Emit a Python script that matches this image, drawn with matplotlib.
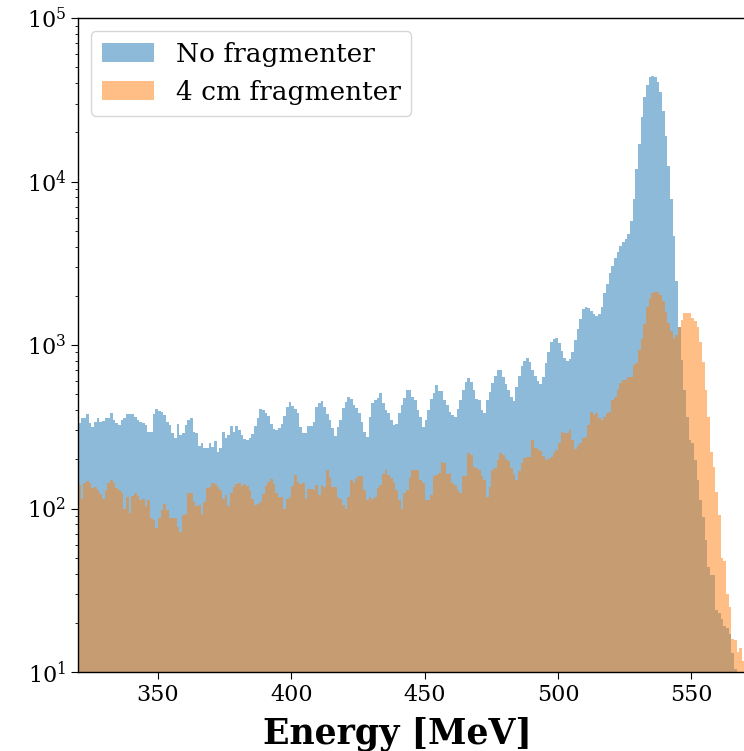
import numpy as np
import matplotlib
matplotlib.use("Agg")
import matplotlib.pyplot as plt

# 1 MeV bins from 320 to 570 MeV
bin_edges = np.arange(320, 571, 1)

# counts per bin, no fragmenter
no_frag = [
    332, 356, 356, 378, 332, 314, 340, 356, 340, 345,
    356, 356, 385, 350, 332, 325, 348, 356, 378, 378,
    378, 365, 348, 340, 332, 325, 295, 295, 378, 406,
    396, 390, 373, 340, 325, 288, 269, 330, 281, 288,
    325, 350, 356, 295, 288, 241, 251, 233, 233, 251,
    239, 260, 223, 233, 295, 269, 282, 320, 295, 320,
    300, 282, 265, 262, 269, 285, 320, 360, 404, 400,
    382, 370, 330, 305, 300, 309, 330, 370, 420, 450,
    425, 404, 382, 317, 288, 288, 320, 320, 340, 420,
    440, 457, 420, 380, 350, 310, 278, 317, 348, 410,
    450, 478, 465, 430, 410, 382, 340, 295, 275, 365,
    440, 461, 472, 511, 440, 400, 382, 350, 324, 330,
    382, 430, 472, 531, 531, 480, 461, 400, 365, 314,
    348, 400, 465, 506, 569, 526, 526, 461, 430, 391,
    373, 365, 404, 461, 531, 597, 625, 597, 531, 465,
    461, 400, 382, 461, 518, 583, 646, 703, 703, 640,
    575, 530, 480, 455, 555, 650, 745, 800, 830, 790,
    700, 650, 600, 580, 640, 780, 900, 1050, 1090, 1100,
    1030, 920, 830, 800, 820, 900, 1080, 1250, 1450, 1650,
    1700, 1680, 1620, 1540, 1510, 1540, 1700, 2070, 2350, 2740,
    3050, 3400, 3700, 4050, 4250, 4450, 4800, 5700, 7780, 11900,
    16900, 24700, 32700, 38900, 43700, 44500, 43700, 40800, 35400, 27100,
    18970, 12450, 7780, 4645, 2460, 1295, 809, 531, 365, 262,
    251, 198, 149, 113, 89, 64, 44, 39, 39, 24,
    23, 21, 19, 18.5, 17, 13, 10.5, 0, 0, 0,
]

# counts per bin, 4 cm fragmenter
frag_4cm = [
    139, 115, 144, 148, 143, 133, 136, 130, 123, 115,
    130, 144, 149, 143, 133, 130, 124, 100, 118, 94,
    119, 124, 119, 113, 115, 103, 113, 87, 85, 76,
    87, 98, 107, 98, 87, 87, 87, 77, 72, 91,
    93, 124, 124, 110, 103, 105, 93, 110, 133, 135,
    143, 141, 136, 130, 115, 121, 103, 124, 136, 141,
    143, 137, 141, 137, 130, 115, 105, 107, 110, 123,
    137, 146, 151, 141, 124, 117, 118, 100, 114, 117,
    137, 160, 146, 141, 144, 115, 131, 131, 130, 139,
    121, 139, 135, 172, 153, 136, 136, 118, 115, 105,
    100, 118, 149, 144, 153, 157, 157, 130, 113, 118,
    115, 118, 133, 139, 162, 172, 160, 153, 146, 130,
    113, 99, 124, 130, 153, 172, 173, 172, 149, 143,
    113, 113, 121, 157, 160, 164, 193, 189, 163, 164,
    143, 139, 130, 125, 157, 157, 217, 212, 180, 176,
    172, 157, 149, 118, 136, 172, 176, 198, 217, 213,
    200, 195, 176, 162, 149, 170, 190, 203, 207, 207,
    262, 233, 230, 226, 209, 198, 200, 207, 218, 228,
    251, 295, 291, 291, 302, 262, 230, 240, 251, 269,
    275, 324, 391, 373, 382, 356, 348, 365, 382, 391,
    461, 483, 531, 583, 611, 611, 640, 640, 755, 773,
    932, 1094, 1350, 1720, 1930, 2070, 2120, 2120, 2030, 1870,
    1590, 1358, 1215, 1100, 1150, 1295, 1422, 1563, 1577, 1577,
    1456, 1400, 1295, 1048, 791, 531, 365, 223, 180, 127,
    91, 50, 48, 30, 25, 16, 15.7, 13.3, 14, 11.6,
]

labels = ["No fragmenter", "4 cm fragmenter"]

plt.rcParams["font.family"] = ["DejaVu Serif"]

fig = plt.figure(figsize=(7.44, 7.51), dpi=100)
ax = fig.add_axes([0.1048, 0.1052, 0.8961, 0.8708])

centers = bin_edges[:-1] + 0.5
ax.hist(centers, bins=bin_edges, weights=no_frag, histtype="stepfilled",
        alpha=0.5, color="tab:blue", label=labels[0])
ax.hist(centers, bins=bin_edges, weights=frag_4cm, histtype="stepfilled",
        alpha=0.5, color="tab:orange", label=labels[1])

ax.set_yscale("log")
ax.set_ylim(10, 1e5)
ax.set_xlim(320, 570)
ax.set_xticks([350, 400, 450, 500, 550])
ax.tick_params(axis="both", which="major", labelsize=16, length=5)
ax.tick_params(axis="both", which="minor", length=2.5)
for sp in ax.spines.values():
    sp.set_linewidth(1.0)
ax.set_xlabel("Energy [MeV]", fontsize=25, fontweight="bold")
# the label sits a bit left of the axes centre in the original
ax.xaxis.set_label_coords(0.4785, -0.068)
ax.xaxis.label.set_verticalalignment("top")

ax.legend(loc="upper left", fontsize=19)

fig.savefig("out.png", dpi=100)
